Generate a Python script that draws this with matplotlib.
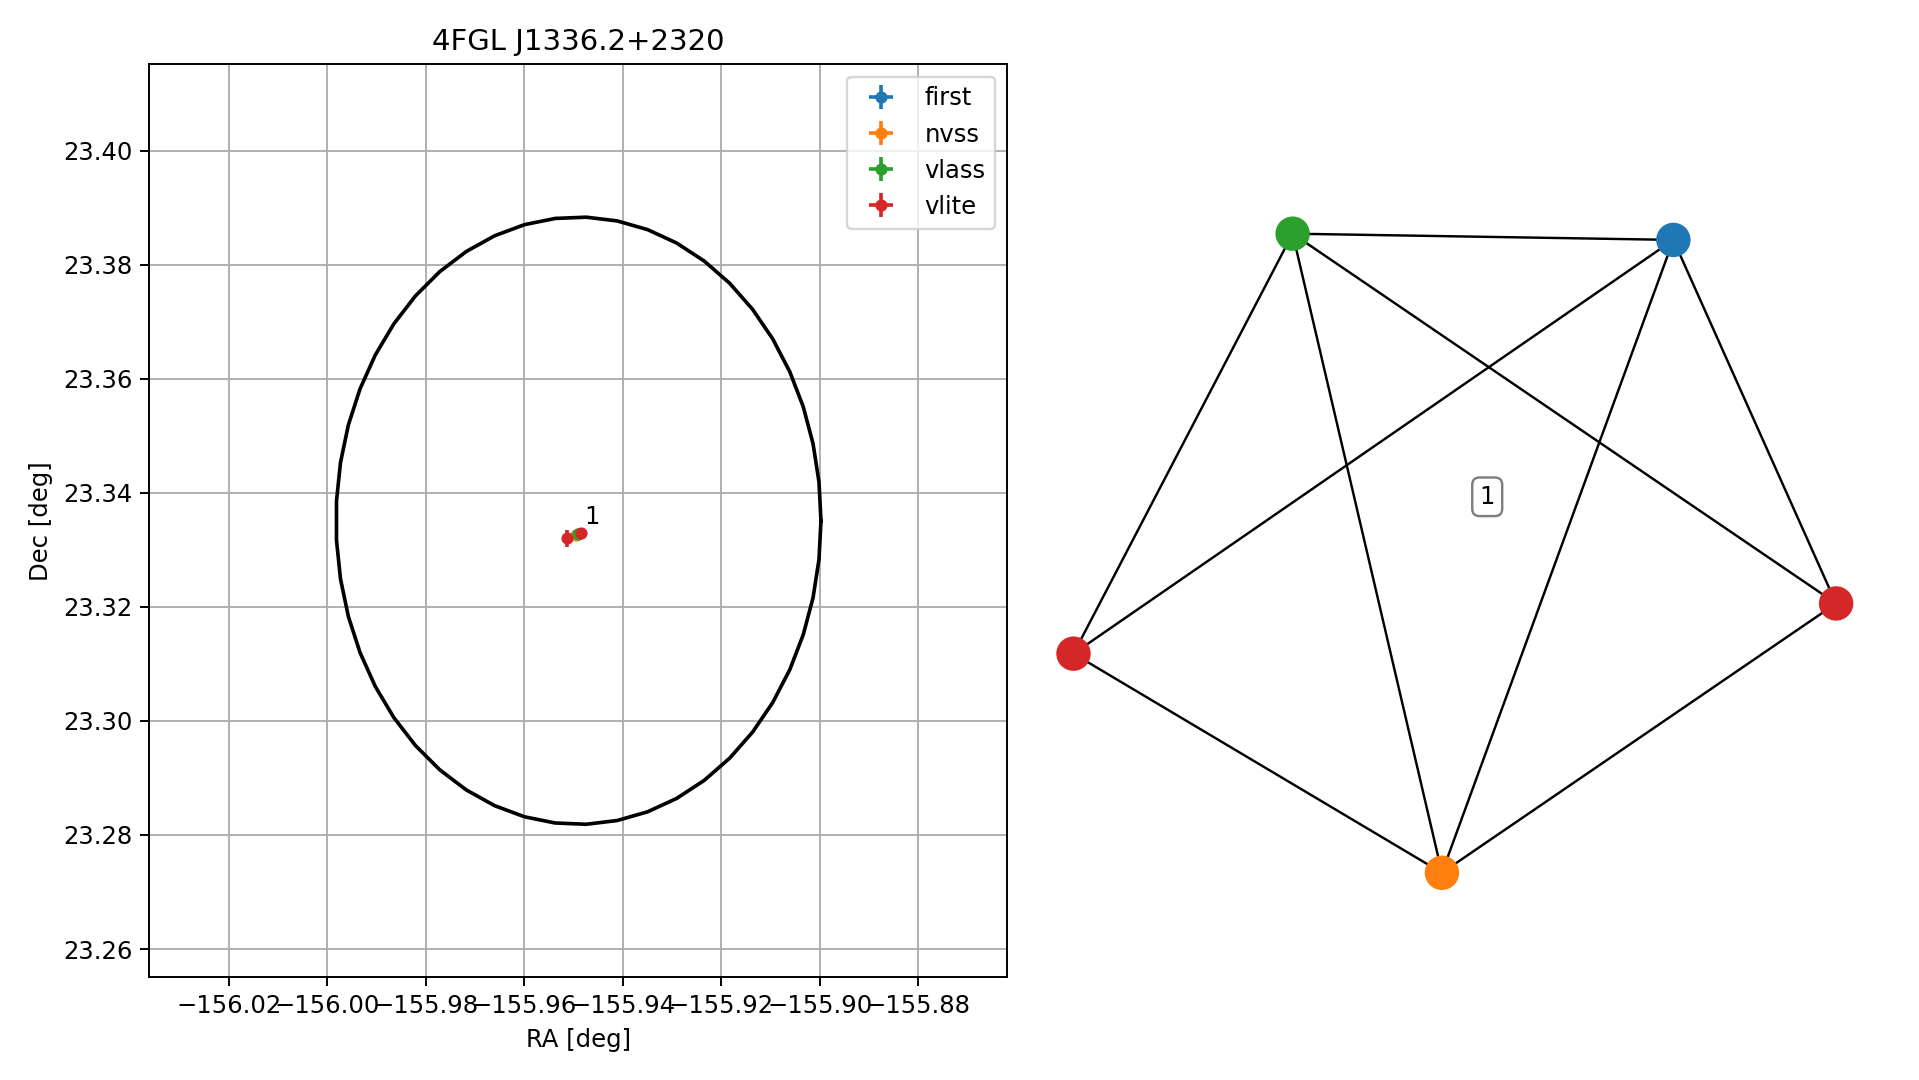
import numpy as np
import matplotlib
matplotlib.use("Agg")
import matplotlib.pyplot as plt

# --- source positions (deg) per catalogue ---
catalogs = ["first", "nvss", "vlass", "vlite", "vlite"]
src_ra = [-155.9490, -155.94956, -155.94901, -155.95125, -155.9484]
src_dec = [23.33280, 23.33251, 23.33281, 23.33204, 23.33292]
src_ra_err = [0.0001, 0.0003, 0.0001, 0.00092, 0.0002]
src_dec_err = [0.0001, 0.0003, 0.0001, 0.00152, 0.0002]
cat_colors = {"first": "#1f77b4", "nvss": "#ff7f0e", "vlass": "#2ca02c", "vlite": "#d62728"}

# --- 4FGL error ellipse ---
ell_ra0 = -155.9490
ell_dec0 = 23.3351
ell_a = 0.04522   # semi-axis along RA (true deg)
ell_b = 0.05325   # semi-axis along Dec
ell_npts = 50
view_radius = 0.08

# --- graph layout (node positions in layout units) ---
node_x = [0.535, -0.068, -0.457, -1.028, 0.959]
node_y = [0.676, -0.849, 0.691, -0.321, -0.200]
group_label = "1"
group_label_pos = (0.050, 0.057)
group_text_pos = (-155.9478, 23.3346)

dpi = 175
fig = plt.figure(figsize=(1919 / dpi, 1080 / dpi), dpi=dpi)
ax = fig.add_axes([0.0779, 0.0954, 0.4471, 0.8449])
ax2 = fig.add_axes([0.545, 0.0954, 0.44, 0.8454])

cosd = np.cos(np.radians(ell_dec0))
t = np.linspace(0, 2 * np.pi, ell_npts)
ax.plot(ell_ra0 + ell_a * np.cos(t) / cosd, ell_dec0 + ell_b * np.sin(t), color="k", zorder=2)

for cat in ["first", "nvss", "vlass", "vlite"]:
    idx = [i for i, c in enumerate(catalogs) if c == cat]
    ax.errorbar([src_ra[i] for i in idx], [src_dec[i] for i in idx],
                xerr=[src_ra_err[i] for i in idx], yerr=[src_dec_err[i] for i in idx],
                fmt="o", ms=4, color=cat_colors[cat], label=cat, zorder=3)

ax.text(group_text_pos[0], group_text_pos[1], group_label, fontsize=10)
ax.set_xlim(ell_ra0 - view_radius / cosd, ell_ra0 + view_radius / cosd)
ax.set_ylim(ell_dec0 - view_radius, ell_dec0 + view_radius)
ax.set_xticks(np.arange(-156.02, -155.879, 0.02))
ax.set_yticks(np.arange(23.26, 23.401, 0.02))
ax.grid(True)
ax.set_axisbelow(True)
ax.set_xlabel("RA [deg]")
ax.set_ylabel("Dec [deg]")
ax.set_title("4FGL J1336.2+2320")
ax.legend(loc="upper right")

# graph: connect every pair of sources from different catalogues
for i in range(len(catalogs)):
    for j in range(i + 1, len(catalogs)):
        if catalogs[i] != catalogs[j]:
            ax2.plot([node_x[i], node_x[j]], [node_y[i], node_y[j]], color="k", lw=1.0, zorder=1)
ax2.scatter(node_x, node_y, s=173, c=[cat_colors[c] for c in catalogs], zorder=2)
ax2.text(group_label_pos[0], group_label_pos[1], group_label, ha="center", va="center",
         fontsize=10, bbox=dict(boxstyle="round", fc="white", ec="black", alpha=0.5))
ax2.set_xlim(-1.1, 1.1)
ax2.set_ylim(-1.1, 1.1)
ax2.axis("off")

fig.savefig("out.png", dpi=dpi)
plt.close(fig)
